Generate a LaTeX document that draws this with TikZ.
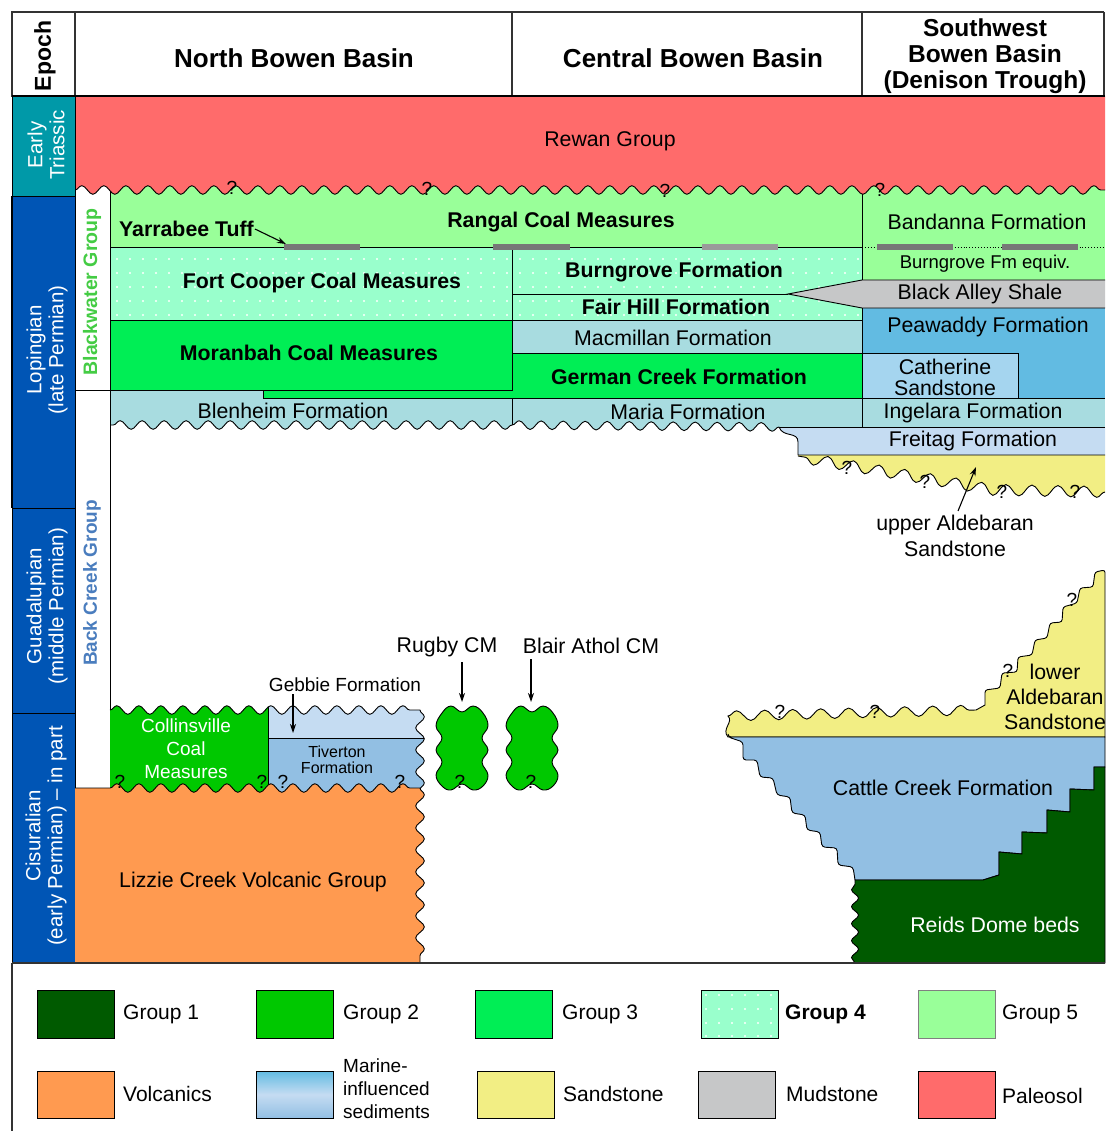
\documentclass[tikz,border=0pt]{standalone}
\usepackage{fontspec}
\setmainfont{Liberation Sans}
\usetikzlibrary{decorations.pathmorphing,arrows.meta}
\definecolor{gone}{HTML}{005A00}
\definecolor{gtwo}{HTML}{00C800}
\definecolor{gthree}{HTML}{00EE55}
\definecolor{gfour}{HTML}{99FFCC}
\definecolor{gfive}{HTML}{99FF99}
\definecolor{paleo}{HTML}{FF6B6B}
\definecolor{volc}{HTML}{FF9A50}
\definecolor{sand}{HTML}{F2EE84}
\definecolor{mud}{HTML}{C6C7C8}
\definecolor{epteal}{HTML}{0099A8}
\definecolor{epblue}{HTML}{0055B5}
\definecolor{macc}{HTML}{A8DCE0}
\definecolor{pea}{HTML}{62BBE2}
\definecolor{cath}{HTML}{A5D5EF}
\definecolor{frei}{HTML}{C5DCF2}
\definecolor{tiv}{HTML}{92BFE3}
\definecolor{bwgreen}{HTML}{44CC44}
\definecolor{bcblue}{HTML}{4A7DBE}
\definecolor{tuffc}{HTML}{777777}
\definecolor{tufflt}{HTML}{9A9A9A}
\definecolor{hdline}{HTML}{333333}
\begin{document}
\begin{tikzpicture}[x=1pt,y=-1pt,
  wv/.style={decoration={snake,amplitude=4.3pt,segment length=22pt}},
  wvs/.style={decoration={snake,amplitude=5pt,segment length=28pt}},
  wvu/.style={decoration={snake,amplitude=5.5pt,segment length=26pt}},
  wvt/.style={decoration={snake,amplitude=3.5pt,segment length=17pt}},
  bdr/.style={draw=black,line width=0.9pt},
  hdr/.style={draw=hdline,line width=1.3pt},
  txt/.style={inner sep=0pt,align=center,font=\fontsize{21.3}{23}\selectfont},
  txtb/.style={inner sep=0pt,align=center,font=\fontsize{21.3}{23}\selectfont\bfseries},
  hbold/.style={inner sep=0pt,align=center,font=\fontsize{26}{28}\selectfont\bfseries},
  eplab/.style={inner sep=0pt,align=center,rotate=90,text=white,font=\fontsize{20.5}{22}\selectfont},
  qmark/.style={inner sep=0pt,font=\fontsize{19}{19}\selectfont},
  arrw/.style={-{Stealth[length=9pt,width=6pt]},line width=1.1pt},
  legbox/.style={draw=black,line width=1pt},
  legtxt/.style={inner sep=0pt,anchor=west,font=\fontsize{21}{23}\selectfont},
  tuff/.style={line width=6pt,draw=tuffc},
  blob/.style={fill=gtwo,draw=black,line width=0.9pt},
]
\useasboundingbox (0,0) rectangle (1105,1131);
\fill[white] (0,0) rectangle (1105,1131);

% ---------- upper formations ----------
\fill[gfive] (110,180) rectangle (1105,247);
\fill[gfour] (110,247) rectangle (862,320);
\begin{scope}
  \clip (110,248) rectangle (862,320);
  \foreach \yy in {259,273,287,301,315}{\foreach \xx in {117,130,...,860}{\fill[white] (\xx,\yy) circle (1.1);}}
\end{scope}
\fill[gfive] (862,247) rectangle (1105,280);
\fill[pea] (862,308) rectangle (1105,398);
\filldraw[fill=mud,bdr] (1105,280) -- (862,280) -- (788,294) -- (862,308) -- (1105,308);
\filldraw[fill=cath,bdr] (862,353) rectangle (1018,398);
\fill[macc] (512,320) rectangle (862,353);
\fill[macc] (110,390) -- (512,390) -- (512,425) decorate[wv]{-- (110,425)} -- cycle;
\fill[macc] (512,398) -- (862,398) -- (862,427) -- (779,427) decorate[wv]{-- (512,425)} -- cycle;
\fill[macc] (862,398) rectangle (1105,427);
\filldraw[fill=gthree,bdr] (110,320) rectangle (512,390);
\filldraw[fill=gthree,bdr] (512,353) -- (862,353) -- (862,398) -- (263,398) -- (263,390) -- (512,390) -- cycle;
\fill[frei] (779,427) -- (1105,427) -- (1105,455) -- (798,455) -- (798,442) .. controls (798,431) and (783,438) .. (779,427) -- cycle;
\fill[sand] (798,455) -- (1105,455) -- (1105,492) decorate[wvu]{-- (1000,490) -- (798,456)} -- cycle;
\draw[bdr] (1105,492) decorate[wvu]{-- (1000,490) -- (798,456)};
\draw[bdr] (1105,455) -- (798,455) -- (798,442) .. controls (798,431) and (783,438) .. (779,427);

% lines
\draw[bdr] (110,247) -- (862,247);
\draw[bdr,dotted] (862,247) -- (1105,247);
\draw[bdr] (512,294) -- (788,294);
\draw[bdr] (110,320) -- (862,320);
\draw[bdr] (512,353) -- (862,353);
\draw[bdr] (512,247) -- (512,390);
\draw[bdr] (512,398) -- (512,425);
\draw[bdr] (862,180) -- (862,280);
\draw[bdr] (862,308) -- (862,427);
\draw[bdr] (862,398) -- (1105,398);
\draw[bdr] (779,427) -- (1105,427);
\draw[bdr] (512,425) decorate[wv]{-- (110,425)};
\draw[bdr] (779,427) decorate[wv]{-- (512,425)};
\draw[bdr] (110,180) -- (110,788);
\draw[bdr] (75,390) -- (110,390);

% tuff bars
\draw[tuff] (284,247) -- (360,247);
\draw[tuff] (493,247) -- (570,247);
\draw[tuff,draw=tufflt] (702,247) -- (778,247);
\draw[tuff] (877,247) -- (953,247);
\draw[tuff] (1002,247) -- (1078,247);

% Rewan
\fill[paleo] (75,190) decorate[wv]{-- (1105,190)} -- (1105,96) -- (75,96) -- cycle;
\draw[bdr] (75,190) decorate[wv]{-- (1105,190)};

% header and epochs
\draw[hdr] (12,12) rectangle (75,96);
\draw[hdr] (75,12) -- (1104,12);
\draw[hdr] (512,12) -- (512,96);
\draw[hdr] (862,12) -- (862,96);
\draw[hdr] (1104,12) -- (1104,96);
\draw[line width=2pt] (12,96) -- (1105,96);
\filldraw[fill=epteal,bdr] (12,96) rectangle (75,196);
\filldraw[fill=epblue,bdr] (12,196) rectangle (75,508);
\filldraw[fill=epblue,bdr] (12,508) rectangle (75,713);
\filldraw[fill=epblue,bdr] (12,713) rectangle (75,963);
\draw[line width=2.5pt] (12,196) -- (12,508);

% ---------- lower left ----------
\begin{scope}
  \clip (110,792) -- (110,710) decorate[wv]{-- (420,710)} decorate[wv]{-- (420,792)} -- cycle;
  \fill[gtwo] (100,690) rectangle (268,800);
  \fill[frei] (268,690) rectangle (440,738);
  \fill[tiv] (268,738) rectangle (440,800);
  \draw[bdr] (268,690) -- (268,800);
  \draw[bdr] (268,738) -- (440,738);
\end{scope}
\draw[bdr] (110,710) decorate[wv]{-- (420,710)} decorate[wv]{-- (420,792)};

\filldraw[blob] plot[smooth cycle,tension=0.7] coordinates {(442,713) (451,706) (462,712) (473,706) (483,713) (488,726) (482,738) (488,750) (482,762) (488,775) (483,786) (473,790) (462,784) (451,790) (442,786) (436,775) (442,762) (436,750) (442,738) (436,726)};
\begin{scope}[shift={(70,0)}]
\filldraw[blob] plot[smooth cycle,tension=0.7] coordinates {(442,713) (451,706) (462,712) (473,706) (483,713) (488,726) (482,738) (488,750) (482,762) (488,775) (483,786) (473,790) (462,784) (451,790) (442,786) (436,775) (442,762) (436,750) (442,738) (436,726)};
\end{scope}

\fill[volc] (75,963) -- (75,788) -- (110,788) decorate[wv]{-- (420,788)} decorate[wv]{-- (420,963)} -- cycle;
\draw[bdr] (75,788) -- (110,788) decorate[wv]{-- (420,788)} decorate[wv]{-- (420,963)};

% ---------- lower right ----------
\filldraw[fill=sand,bdr] (728,737) .. controls (721,729) and (734,722) .. (728,716) decorate[wvs]{-- (976,710)} -- (985,705) [rounded corners=2.5pt] -- (985,690) -- (1000,688) -- (1002,673) -- (1017,672) -- (1018,657) -- (1032,655) -- (1035,640) -- (1047,638) -- (1050,623) -- (1062,622) -- (1063,607) -- (1077,603) -- (1080,588) -- (1093,587) -- (1095,572) -- (1105,570) [sharp corners] -- (1105,737) -- cycle;
\filldraw[fill=tiv,bdr] (728,737) -- (1105,737) -- (1105,767) -- (1094,767) -- (1094,790) -- (1070,789) -- (1070,812) -- (1047,810) -- (1047,833) -- (1022,832) -- (1022,854) -- (999,852) -- (999,875) -- (983,880) -- (855,880) [rounded corners=3pt] -- (853,867) -- (838,865) -- (837,848) -- (822,847) -- (820,832) -- (807,830) -- (805,815) -- (792,813) -- (790,797) -- (777,795) -- (773,778) -- (760,777) -- (757,760) -- (743,760) -- (743,742) -- (728,737) -- cycle;
\filldraw[fill=gone,bdr] (855,963) decorate[wvt]{-- (855,880)} -- (983,880) -- (999,875) -- (999,852) -- (1022,854) -- (1022,832) -- (1047,833) -- (1047,810) -- (1070,812) -- (1070,789) -- (1094,790) -- (1094,767) -- (1105,767) -- (1105,963) -- cycle;

% ---------- question marks ----------
\node[qmark] (q1) at (232,188) {?};
\node[qmark] (q2) at (427,189) {?};
\node[qmark] (q3) at (665,191) {?};
\node[qmark] (q4) at (880,190) {?};
\node[qmark] (q5) at (847,468) {?};
\node[qmark] (q6) at (925,482) {?};
\node[qmark] (q7) at (1002,492) {?};
\node[qmark] (q8) at (1075,492) {?};
\node[qmark] (q9) at (120,782) {?};
\node[qmark] (q10) at (262,782) {?};
\node[qmark] (q11) at (283,782) {?};
\node[qmark] (q12) at (400,782) {?};
\node[qmark] (q13) at (460,782) {?};
\node[qmark] (q14) at (531,782) {?};
\node[qmark] (q15) at (780,712) {?};
\node[qmark] (q16) at (875,712) {?};
\node[qmark] (q17) at (1008,671) {?};
\node[qmark] (q18) at (1072,600) {?};

% ---------- headers ----------
\node[inner sep=0pt,rotate=90,font=\fontsize{23}{25}\selectfont\bfseries] (hep) at (45,56) {Epoch};
\node[hbold] (hn) at (294,58) {North Bowen Basin};
\node[hbold] (hc) at (693,58) {Central Bowen Basin};
\node[inner sep=0pt,align=center,font=\fontsize{24.5}{26}\selectfont\bfseries] (hsw) at (985,56) {Southwest\\Bowen Basin\\(Denison Trough)};

\node[eplab] (e1) at (46,145) {Early\\Triassic};
\node[eplab] (e2) at (47,350) {Lopingian\\(late Permian)};
\node[eplab] (e3) at (47,606) {Guadalupian\\(middle Permian)};
\node[eplab] (e4) at (46,836) {Cisuralian\\(early Permian) – in part};
\node[inner sep=0pt,rotate=90,text=bwgreen,font=\fontsize{19.5}{21}\selectfont\bfseries] (gbw) at (92,292) {Blackwater Group};
\node[inner sep=0pt,rotate=90,text=bcblue,font=\fontsize{19}{21}\selectfont\bfseries] (gbc) at (92,583) {Back Creek Group};

% ---------- formation labels ----------
\node[txt] (rewan) at (610,141) {Rewan Group};
\node[txtb,anchor=west] (yarr) at (119,229) {Yarrabee Tuff};
\coordinate (yarrtip) at (286,244);
\draw[arrw] ([xshift=1pt]yarr.east) -- (yarrtip);
\node[txtb] (rangal) at (561,222) {Rangal Coal Measures};
\node[txt] (band) at (987,222) {Bandanna Formation};
\node[txtb] (fortc) at (322,283) {Fort Cooper Coal Measures};
\node[txtb] (burn) at (674,272) {Burngrove Formation};
\node[txtb] (fair) at (676,307) {Fair Hill Formation};
\node[inner sep=0pt,font=\fontsize{18.5}{20}\selectfont] (burneq) at (985,264) {Burngrove Fm equiv.};
\node[txt] (bas) at (980,294) {Black Alley Shale};
\node[txt] (pea) at (988,327) {Peawaddy Formation};
\node[txt] (mac) at (673,338) {Macmillan Formation};
\node[txtb] (moran) at (309,353) {Moranbah Coal Measures};
\node[txt,font=\fontsize{21.3}{21}\selectfont] (cath) at (945,377) {Catherine\\Sandstone};
\node[txtb] (germ) at (679,377) {German Creek Formation};
\node[txt] (blen) at (293,411) {Blenheim Formation};
\node[txt] (maria) at (688,412) {Maria Formation};
\node[txt] (ing) at (973,413) {Ingelara Formation};
\node[txt] (frt) at (973,441) {Freitag Formation};
\node[txt,font=\fontsize{21.3}{26}\selectfont] (ualab) at (955,536) {upper Aldebaran\\Sandstone};
\coordinate (uatip) at (976,467);
\draw[arrw] ([xshift=3pt,yshift=4pt]ualab.north) -- (uatip);

\node[txt] (rugby) at (447,647) {Rugby CM};
\node[txt] (blair) at (591,646) {Blair Athol CM};
\coordinate (rugbytip) at (462,702);
\coordinate (blairtip) at (531,702);
\draw[arrw,shorten <=5pt] (rugbytip |- rugby.south) -- (rugbytip);
\draw[arrw,shorten <=5pt] (blairtip |- blair.south) -- (blairtip);
\node[inner sep=0pt,font=\fontsize{19}{21}\selectfont] (gebbie) at (345,685) {Gebbie Formation};
\coordinate (gebtip) at (293,733);
\draw[arrw,shorten <=2pt] (gebtip |- gebbie.south) -- (gebtip);
\node[inner sep=0pt,align=center,text=white,font=\fontsize{19}{23}\selectfont] (coll) at (186,749) {Collinsville\\Coal\\Measures};
\node[inner sep=0pt,align=center,font=\fontsize{16}{16.5}\selectfont] (tiv) at (337,760) {Tiverton\\Formation};
\node[txt] (lizzie) at (253,882) {Lizzie Creek Volcanic Group};
\node[txt,font=\fontsize{21.3}{25}\selectfont] (lald) at (1055,697) {lower\\Aldebaran\\Sandstone};
\node[txt] (cattle) at (943,788) {Cattle Creek Formation};
\node[txt,text=white] (reids) at (995,925) {Reids Dome beds};

% ---------- legend ----------
\draw[draw=hdline,line width=1.2pt] (12,963) -- (1105,963);
\draw[draw=hdline,line width=1.2pt] (12,963) -- (12,1131);
\filldraw[fill=gone,legbox] (37,990) rectangle (114,1038);
\node[legtxt] (l1) at (123,1014) {Group 1};
\filldraw[fill=gtwo,legbox] (256,990) rectangle (333,1038);
\node[legtxt] (l2) at (343,1014) {Group 2};
\filldraw[fill=gthree,legbox] (475,990) rectangle (552,1038);
\node[legtxt] (l3) at (562,1014) {Group 3};
\fill[gfour] (701,990) rectangle (778,1038);
\begin{scope}
  \clip (701,990) rectangle (778,1038);
  \foreach \yy in {995,1009,1023,1036}{\foreach \xx in {706,719,...,778}{\fill[white] (\xx,\yy) circle (1.1);}}
\end{scope}
\draw[legbox] (701,990) rectangle (778,1038);
\node[legtxt,font=\fontsize{21}{23}\selectfont\bfseries] (l4) at (785,1014) {Group 4};
\filldraw[fill=gfive,draw=gray,line width=1pt] (918,990) rectangle (995,1038);
\node[legtxt] (l5) at (1002,1014) {Group 5};

\filldraw[fill=volc,legbox] (37,1071) rectangle (114,1118);
\node[legtxt] (l6) at (123,1094) {Volcanics};
\shade[top color=pea,bottom color=tiv,middle color=frei] (256,1071) rectangle (333,1118);
\draw[legbox] (256,1071) rectangle (333,1118);
\node[legtxt,align=left,font=\fontsize{19}{23}\selectfont] (l7) at (343,1089) {Marine-\\influenced\\sediments};
\filldraw[fill=sand,legbox] (477,1071) rectangle (554,1118);
\node[legtxt] (l8) at (563,1094) {Sandstone};
\filldraw[fill=mud,legbox] (698,1071) rectangle (775,1118);
\node[legtxt] (l9) at (786,1094) {Mudstone};
\filldraw[fill=paleo,legbox] (918,1071) rectangle (995,1118);
\node[legtxt] (l10) at (1002,1096) {Paleosol};
\end{tikzpicture}
\end{document}
